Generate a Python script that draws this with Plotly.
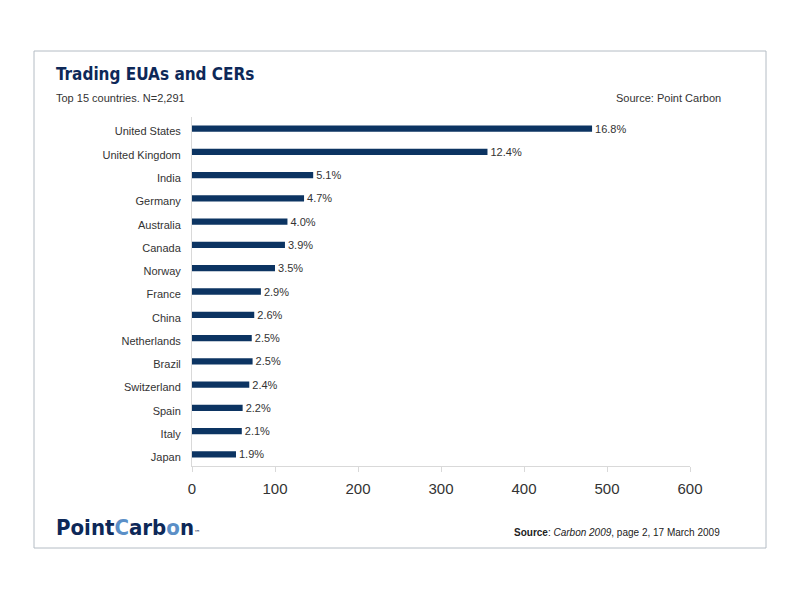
import plotly.graph_objects as go

countries = ["United States", "United Kingdom", "India", "Germany", "Australia", "Canada",
             "Norway", "France", "China", "Netherlands", "Brazil", "Switzerland", "Spain",
             "Italy", "Japan"]
values = [482, 356, 146, 135, 115, 112, 100, 83, 75, 72, 73, 69, 61, 60, 53]
labels = ["16.8%", "12.4%", "5.1%", "4.7%", "4.0%", "3.9%", "3.5%", "2.9%", "2.6%",
          "2.5%", "2.5%", "2.4%", "2.2%", "2.1%", "1.9%"]
x_ticks = [0, 100, 200, 300, 400, 500, 600]

W, H = 800, 600
OFF = 8  # page body offset
ML, MR, MT, MB = 192 - OFF, 800 - 690 + OFF, 117 - OFF, 600 - 466 + OFF
PW, PH = W - ML - MR, H - MT - MB


def px(x):
    return (x - OFF - ML) / PW


def py(y):
    return (H - MB - (y - OFF)) / PH


NAVY = "#0c3462"
TXT = "#333333"
FONT = "Liberation Sans, Arial, sans-serif"
COND = "DejaVu Sans Condensed, Liberation Sans Narrow, sans-serif"

fig = go.Figure(go.Bar(
    x=values, y=countries, orientation="h",
    marker=dict(color=NAVY, line=dict(width=0)),
    width=0.27,
    text=labels, textposition="outside", cliponaxis=False, constraintext="none",
    textfont=dict(size=11, color=TXT, family=FONT),
))

fig.update_layout(
    width=W, height=H,
    margin=dict(l=ML, r=MR, t=MT, b=MB),
    paper_bgcolor="white", plot_bgcolor="white",
    showlegend=False,
    font=dict(family=FONT, color=TXT),
    xaxis=dict(range=[0, 600], tickvals=x_ticks, showgrid=False, zeroline=False,
               showline=True, linecolor="#d9d9d9", linewidth=1,
               ticks="outside", ticklen=5, tickcolor="#d9d9d9", ticklabelstandoff=4,
               tickfont=dict(size=15, color=TXT, family=FONT)),
    yaxis=dict(autorange="reversed", showgrid=False, zeroline=False,
               showline=True, linecolor="#d9d9d9", linewidth=1,
               ticks="", ticklabelstandoff=8, ticklabelshift=-3,
               tickfont=dict(size=11, color=TXT, family=FONT)),
    shapes=[dict(type="rect", xref="paper", yref="paper",
                 x0=px(34), x1=px(766), y0=py(548), y1=py(51),
                 line=dict(color="#b4bcc4", width=1), fillcolor="rgba(0,0,0,0)")],
    annotations=[
        dict(text="<b>Trading EUAs and CERs</b>", xref="paper", yref="paper",
             x=px(54), y=py(74), xanchor="left", yanchor="middle", showarrow=False,
             font=dict(size=17, color="#0d2858", family=COND)),
        dict(text="Top 15 countries. N=2,291", xref="paper", yref="paper",
             x=px(54), y=py(98), xanchor="left", yanchor="middle", showarrow=False,
             font=dict(size=11, color=TXT, family=FONT)),
        dict(text="Source: Point Carbon", xref="paper", yref="paper",
             x=px(723), y=py(98), xanchor="right", yanchor="middle", showarrow=False,
             font=dict(size=11, color=TXT, family=FONT)),
        dict(text="<b>Point<span style='color:#5b8fc7'>C</span>arb<span style='color:#5b8fc7'>o</span>n</b><span style='font-size:7px'>™</span>",
             xref="paper", yref="paper",
             x=px(54), y=py(527), xanchor="left", yanchor="middle", showarrow=False,
             font=dict(size=22, color="#0d2858", family=COND)),
        dict(text="<b>Source</b>: <i>Carbon 2009</i>, page 2, 17 March 2009",
             xref="paper", yref="paper",
             x=px(722), y=py(532), xanchor="right", yanchor="middle", showarrow=False,
             font=dict(size=10, color="#222222", family=FONT)),
    ],
)

fig.write_html("out.html")
